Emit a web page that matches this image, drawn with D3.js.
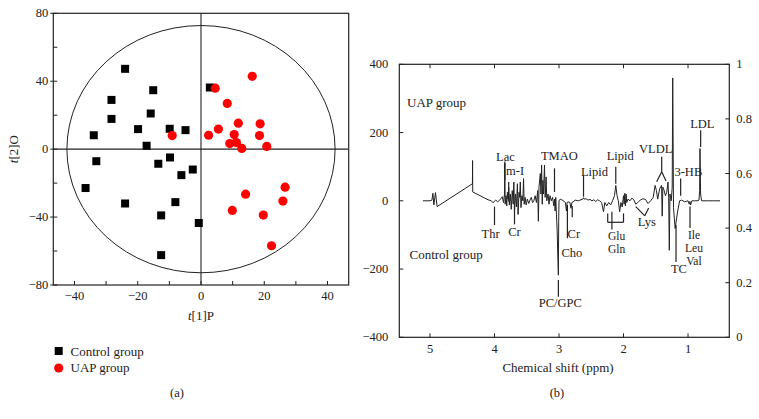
<!DOCTYPE html>
<html><head><meta charset="utf-8">
<script src="https://cdn.jsdelivr.net/npm/d3@7"></script>
<style>
body{margin:0;background:#fff;}
svg{display:block;font-family:"Liberation Serif","Times New Roman",serif;}
text{fill:#222;}
</style></head><body>
<svg id="c" width="759" height="419"></svg>
<script>
// ---------- Panel (a): OPLS-DA scores ----------
const controlScores = [
 [-24.0,47.3],[-15.1,34.7],[-28.3,29.0],[-28.3,17.8],[-15.9,21.0],[-19.9,11.8],
 [-9.9,12.0],[-4.9,11.2],[-33.9,8.2],[-17.2,2.0],[2.8,36.3],[-33.1,-7.1],
 [-13.5,-8.6],[-9.8,-4.9],[-6.2,-15.3],[-2.6,-12.0],[-36.5,-22.9],[-24.0,-32.0],
 [-8.1,-31.2],[-12.6,-39.0],[-0.7,-43.5],[-12.6,-62.4]
];
const uapScores = [
 [16.2,42.9],[4.5,35.9],[8.3,26.9],[11.8,15.3],[18.7,14.9],[5.5,11.8],
 [2.4,8.2],[-9.1,8.0],[10.5,8.6],[18.5,8.0],[9.1,3.3],[11.2,3.9],
 [12.9,0.4],[20.8,1.6],[26.6,-22.4],[25.9,-30.6],[14.1,-26.5],[9.9,-36.1],
 [19.7,-38.8],[22.3,-56.9]
];
const ellipseRadii = [42.4, 72.8];
const scoreXTicks = [-40,-20,0,20,40];
const scoreYTicks = [-80,-40,0,40,80];
const legendItems = ["Control group","UAP group"];

// ---------- Panel (b): loadings plot ----------
const shiftPPM = [
 5.11,5.00,4.97,4.955,4.94,4.915,4.89,4.342,4.340,4.338,4.10,4.05,4.02,4.00,3.98,
 3.95,3.90,3.88,3.86,3.845,3.84,3.835,3.82,3.81,3.80,3.79,3.78,3.77,3.755,3.74,
 3.725,3.71,3.70,3.69,3.675,3.66,3.645,3.635,3.62,3.61,3.60,3.59,3.575,3.56,3.55,
 3.54,3.525,3.51,3.49,3.47,3.45,3.43,3.41,3.39,3.37,3.35,3.33,3.32,3.31,3.29,
 3.28,3.27,3.26,3.25,3.24,3.225,3.215,3.20,3.19,3.17,3.155,3.14,3.12,3.10,3.08,
 3.07,3.06,3.05,3.04,3.03,3.02,3.01,3.005,3.00,2.98,2.95,2.92,2.90,2.885,2.875,
 2.86,2.83,2.815,2.80,2.78,2.75,2.70,2.66,2.63,2.62,2.61,2.58,2.55,2.52,2.49,
 2.46,2.43,2.40,2.37,2.34,2.31,2.29,2.26,2.23,2.20,2.17,2.14,2.12,2.10,2.08,
 2.06,2.04,2.02,2.00,1.99,1.98,1.97,1.96,1.95,1.93,1.90,1.87,1.84,1.81,1.78,
 1.74,1.70,1.66,1.62,1.58,1.54,1.51,1.49,1.47,1.44,1.41,1.40,1.39,1.37,1.35,
 1.33,1.31,1.30,1.29,1.28,1.26,1.245,1.237,1.225,1.20,1.16,1.13,1.10,1.05,1.00,
 0.98,0.97,0.96,0.94,0.90,0.86,0.83,0.82,0.814,0.805,0.79,0.70,0.60,0.504
];
const loadingValue = [
 0,0,2,22,-12,24,-17,50,118,26,3,0,-6,-1,2,
 -3,6,12,-5,20,110,-10,15,-15,25,5,40,-12,20,-25,
 30,-10,55,-30,20,-18,50,-40,25,10,55,-20,15,0,65,
 -10,10,-12,5,-8,2,10,-5,0,15,-5,30,-60,40,80,
 20,105,-10,60,20,105,10,70,0,20,-10,15,0,10,-15,
 5,-30,10,-40,-80,-150,-218,-60,0,5,2,-2,-5,-30,-5,
 -3,-5,-22,-5,-3,2,0,3,5,9,5,6,2,4,0,
 3,-2,3,0,-5,-32,-5,-15,-5,-12,0,15,45,15,0,
 -32,-5,-18,15,-10,22,-15,20,-5,5,0,8,3,-10,-5,
 2,6,4,-8,0,10,45,30,5,35,45,-45,40,30,15,
 25,55,10,-145,20,0,40,360,-20,-81,-30,0,2,-3,0,
 -10,-2,-12,0,0,0,2,30,153,20,0,0,0,0
];
const shiftTicks = [5,4,3,2,1];
const leftTicks = [-400,-200,0,200,400];
const rightTicks = [0,0.2,0.4,0.6,0.8,1];
// assignments: [label, ppm, value]
const assignLabels = [
 ["Thr",4.06,-96],["Lac",3.83,129],["m-I",3.68,88],["Cr",3.69,-91],
 ["TMAO",2.995,131],["Cr",2.77,-96],["Cho",2.80,-154],["PC/GPC",2.98,-300],
 ["Lipid",2.45,83],["Lipid",2.05,131],["Glu",2.106,-104],["Gln",2.106,-142],
 ["Lys",1.64,-63],["VLDL",1.50,153],["3-HB",0.995,85],["TC",1.14,-200],
 ["Ile",0.907,-99],["Leu",0.907,-137],["Val",0.907,-175],["LDL",0.778,225]
];
// leader segments: [ppm1, val1, ppm2, val2]
const assignLeaders = [
 [4.00,-17,4.00,-71],[3.84,115,3.84,60],[3.78,55,3.78,-2],[3.69,-12,3.69,-69],
 [3.07,95,3.07,26],[2.87,-12,2.87,-110],[2.795,-15,2.795,-48],[3.01,-232,3.01,-281],
 [2.62,74,2.62,12],[2.12,100,2.12,50],
 [2.245,-37,2.245,-63],[2.245,-63,2.0,-63],[2.0,-63,2.0,-37],[2.18,-32,2.18,-84],
 [1.81,-17,1.67,-44],[1.67,-44,1.61,-21],
 [1.408,129,1.408,85],[1.408,85,1.486,56],[1.408,85,1.341,58],
 [1.114,65,1.114,15],[1.186,-71,1.186,-179],[0.969,-17,0.969,-80],[0.804,207,0.804,158]
];

const svg = d3.select("#c");
const FONT = 12.5;

// ===== Panel (a) =====
const A = {l:53.3, r:348.7, t:13.3, b:285};
const xs = d3.scaleLinear().domain([-46.7,46.7]).range([A.l,A.r]);
const ys = d3.scaleLinear().domain([-80,80]).range([A.b,A.t]);
const ga = svg.append("g");
ga.append("rect").attr("x",A.l).attr("y",A.t).attr("width",A.r-A.l).attr("height",A.b-A.t)
  .attr("fill","none").attr("stroke","#222").attr("stroke-width",1.2);
ga.selectAll(".bt").data(d3.range(-40,41,10)).join("line")
  .attr("x1",d=>xs(d)).attr("x2",d=>xs(d)).attr("y1",A.b).attr("y2",A.b-4).attr("stroke","#222");
ga.selectAll(".lt").data(d3.range(-80,81,20)).join("line")
  .attr("x1",A.l).attr("x2",A.l+4).attr("y1",d=>ys(d)).attr("y2",d=>ys(d)).attr("stroke","#222");
ga.selectAll(".lto").data(scoreYTicks).join("line")
  .attr("x1",A.l-3).attr("x2",A.l).attr("y1",d=>ys(d)).attr("y2",d=>ys(d)).attr("stroke","#222");
const fmt = d => d<0 ? "\u2212"+Math.abs(d) : String(d);
ga.selectAll(".xl").data(scoreXTicks).join("text")
  .attr("x",d=>xs(d)).attr("y",A.b+15).attr("text-anchor","middle").attr("font-size",FONT).text(fmt);
ga.selectAll(".yl").data(scoreYTicks).join("text")
  .attr("x",A.l-5).attr("y",d=>ys(d)+4).attr("text-anchor","end").attr("font-size",FONT).text(fmt);
ga.append("line").attr("x1",xs(0)).attr("x2",xs(0)).attr("y1",A.t).attr("y2",A.b).attr("stroke","#222").attr("stroke-width",1.1);
ga.append("line").attr("x1",A.l).attr("x2",A.r).attr("y1",ys(0)).attr("y2",ys(0)).attr("stroke","#222").attr("stroke-width",1.1);
ga.append("ellipse").attr("cx",xs(0)).attr("cy",ys(0))
  .attr("rx",xs(ellipseRadii[0])-xs(0)).attr("ry",ys(0)-ys(ellipseRadii[1]))
  .attr("fill","none").attr("stroke","#222").attr("stroke-width",1);
ga.selectAll(".sq").data(controlScores).join("rect")
  .attr("x",d=>xs(d[0])-4).attr("y",d=>ys(d[1])-4).attr("width",8).attr("height",8).attr("fill","#000");
ga.selectAll(".ci").data(uapScores).join("circle")
  .attr("cx",d=>xs(d[0])).attr("cy",d=>ys(d[1])).attr("r",4.6).attr("fill","#ff0000");
const t1 = ga.append("text").attr("x",xs(0)).attr("y",320).attr("text-anchor","middle").attr("font-size",FONT+0.5);
t1.append("tspan").attr("font-style","italic").text("t");
t1.append("tspan").text("[1]P");
const t2 = ga.append("text").attr("transform",`translate(18,${ys(0)}) rotate(-90)`).attr("text-anchor","middle").attr("font-size",FONT+0.5);
t2.append("tspan").attr("font-style","italic").text("t");
t2.append("tspan").text("[2]O");
ga.append("rect").attr("x",54.7).attr("y",347).attr("width",8).attr("height",8).attr("fill","#000");
ga.append("circle").attr("cx",58.7).attr("cy",368).attr("r",4.6).attr("fill","#ff0000");
ga.selectAll(".lg").data(legendItems).join("text").attr("x",70.5).attr("y",(d,i)=>355.5+i*16.8)
  .attr("font-size",FONT+0.5).text(d=>d);
ga.append("text").attr("x",177).attr("y",397).attr("text-anchor","middle").attr("font-size",FONT).text("(a)");

// ===== Panel (b) =====
const B = {l:399.3, r:729.3, t:64.3, b:337.3};
const xp = d3.scaleLinear().domain([5.476,0.36]).range([B.l,B.r]);
const yl = d3.scaleLinear().domain([-400,400]).range([B.b,B.t]);
const yr = d3.scaleLinear().domain([0,1]).range([B.b,B.t]);
const gb = svg.append("g");
gb.append("rect").attr("x",B.l).attr("y",B.t).attr("width",B.r-B.l).attr("height",B.b-B.t)
  .attr("fill","none").attr("stroke","#222").attr("stroke-width",1.2);
gb.selectAll(".xb").data(shiftTicks).join("line").attr("x1",d=>xp(d)).attr("x2",d=>xp(d))
  .attr("y1",B.b).attr("y2",B.b-4).attr("stroke","#222");
gb.selectAll(".xt").data(shiftTicks).join("line").attr("x1",d=>xp(d)).attr("x2",d=>xp(d))
  .attr("y1",B.t).attr("y2",B.t+4).attr("stroke","#222");
gb.selectAll(".ylt").data(leftTicks).join("line").attr("x1",B.l).attr("x2",B.l+4)
  .attr("y1",d=>yl(d)).attr("y2",d=>yl(d)).attr("stroke","#222");
gb.selectAll(".yrt").data(rightTicks).join("line").attr("x1",B.r-4).attr("x2",B.r)
  .attr("y1",d=>yr(d)).attr("y2",d=>yr(d)).attr("stroke","#222");
gb.selectAll(".xlb").data(shiftTicks).join("text").attr("x",d=>xp(d)).attr("y",B.b+16)
  .attr("text-anchor","middle").attr("font-size",FONT).text(d=>d);
gb.selectAll(".yll").data(leftTicks).join("text").attr("x",B.l-11).attr("y",d=>yl(d)+4)
  .attr("text-anchor","end").attr("font-size",FONT).text(fmt);
gb.selectAll(".yrl").data(rightTicks).join("text").attr("x",B.r+7).attr("y",d=>yr(d)+4)
  .attr("text-anchor","start").attr("font-size",FONT).text(d=>d);
const specData = shiftPPM.map((p,i)=>[p,loadingValue[i]]);
gb.append("path").datum(specData)
  .attr("d",d3.line().x(d=>xp(d[0])).y(d=>yl(d[1])))
  .attr("fill","none").attr("stroke","#222").attr("stroke-width",1).attr("stroke-linejoin","round");
gb.selectAll(".ld").data(assignLeaders).join("line")
  .attr("x1",d=>xp(d[0])).attr("y1",d=>yl(d[1])).attr("x2",d=>xp(d[2])).attr("y2",d=>yl(d[3]))
  .attr("stroke","#222").attr("stroke-width",1.2);
gb.selectAll(".al").data(assignLabels).join("text")
  .attr("x",d=>xp(d[1])).attr("y",d=>yl(d[2])+4).attr("text-anchor","middle")
  .attr("font-size",d=>["Glu","Gln","Ile","Leu","Val"].includes(d[0]) ? 11.5 : FONT).text(d=>d[0]);
gb.append("text").attr("x",407).attr("y",107).attr("font-size",FONT+0.5).text("UAP group");
gb.append("text").attr("x",409.5).attr("y",259).attr("font-size",FONT+0.5).text("Control group");
gb.append("text").attr("x",558).attr("y",372).attr("text-anchor","middle").attr("font-size",FONT+0.5).text("Chemical shift (ppm)");
gb.append("text").attr("x",557).attr("y",397).attr("text-anchor","middle").attr("font-size",FONT).text("(b)");
</script>
</body></html>
